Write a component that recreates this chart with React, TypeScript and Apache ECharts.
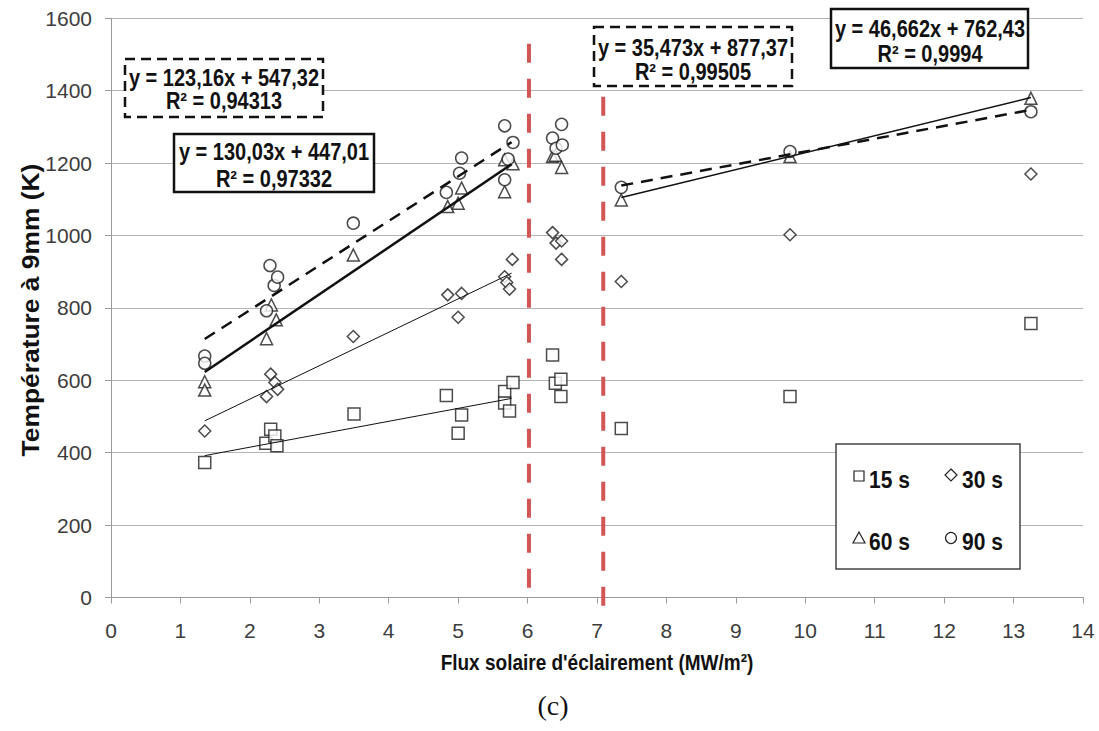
import React, { useEffect, useRef } from "react";
import * as echarts from "echarts";

// ---- data ----
const xTickValues = [0, 14, 1]; // min, max, interval
const yTickValues = [0, 1600, 200]; // min, max, interval

const pts15: [number, number][] = [
  [1.35, 373], [2.23, 426], [2.3, 465], [2.36, 446], [2.39, 419], [3.5, 507],
  [4.83, 558], [5.0, 454], [5.05, 504], [5.67, 569], [5.67, 537], [5.74, 515],
  [5.79, 594], [6.36, 670], [6.4, 592], [6.48, 603], [6.48, 555], [7.35, 467],
  [9.78, 555], [13.25, 757],
];
const pts30: [number, number][] = [
  [1.35, 460], [2.24, 555], [2.3, 617], [2.36, 594], [2.4, 575], [3.49, 721],
  [4.85, 836], [5.0, 774], [5.05, 840], [5.67, 886], [5.7, 870], [5.74, 852],
  [5.78, 934], [6.36, 1008], [6.41, 979], [6.49, 985], [6.49, 934], [7.35, 873],
  [9.78, 1002], [13.25, 1170],
];
const pts60: [number, number][] = [
  [1.35, 596], [1.35, 573], [2.24, 715], [2.31, 808], [2.38, 767], [3.49, 946],
  [4.85, 1080], [5.0, 1089], [5.05, 1131], [5.67, 1121], [5.67, 1209], [5.79, 1198],
  [6.36, 1218], [6.4, 1222], [6.49, 1188], [7.35, 1098], [9.78, 1218], [13.25, 1379],
];
const pts90: [number, number][] = [
  [1.35, 667], [1.35, 647], [2.24, 792], [2.29, 917], [2.35, 862], [2.4, 885],
  [3.49, 1034], [4.83, 1119], [5.02, 1172], [5.05, 1214], [5.67, 1303], [5.67, 1154],
  [5.72, 1211], [5.79, 1257], [6.36, 1269], [6.41, 1241], [6.49, 1307], [6.5, 1250],
  [7.35, 1133], [9.78, 1232], [13.25, 1342],
];

const trend15: [number, number][] = [[1.35, 392], [5.77, 550]];
const trend30: [number, number][] = [[1.35, 488], [5.77, 896]];
const trend60Left: [number, number][] = [[1.35, 623], [5.77, 1197]];
const trend90Left: [number, number][] = [[1.35, 714], [5.77, 1258]];
const trend60Right: [number, number][] = [[7.35, 1105], [13.25, 1381]];
const trend90Right: [number, number][] = [[7.35, 1138], [13.25, 1347]];

const redLine1: [number, number][] = [[6.02, 1530], [6.02, -15]];
const redLine2: [number, number][] = [[7.09, 1383], [7.09, -54]];

const equations = [
  { l1: "y = 123,16x + 547,32", l2: "R² = 0,94313", dashed: true },
  { l1: "y = 130,03x + 447,01", l2: "R² = 0,97332", dashed: false },
  { l1: "y = 35,473x + 877,37", l2: "R² = 0,99505", dashed: true },
  { l1: "y = 46,662x + 762,43", l2: "R² = 0,9994", dashed: false },
];
const legendNames = ["15 s", "30 s", "60 s", "90 s"];

const xTitle = "Flux solaire d'éclairement (MW/m²)";
const yTitle = "Température à 9mm (K)";
const caption = "(c)";

export default function App() {
  const ref = useRef<HTMLDivElement>(null);

  useEffect(() => {
    const chart = echarts.init(ref.current!, null, { renderer: "svg" });
    const font = "'Liberation Sans', Arial, Helvetica, sans-serif";
    const markerStyle = { color: "#ffffff", borderColor: "#1e1e1e", borderWidth: 1.5 };

    const scatter = (name: string, data: [number, number][], symbol: string) => ({
      type: "scatter",
      name,
      data,
      symbol,
      symbolSize: 12,
      itemStyle: markerStyle,
      z: 3,
    });
    const trend = (data: [number, number][], width: number, dashed: boolean) => ({
      type: "line",
      data,
      symbol: "none",
      silent: true,
      lineStyle: { color: "#111", width, type: dashed ? [12, 8] : "solid" },
      z: 4,
    });
    const red = (data: [number, number][]) => ({
      type: "line",
      data,
      symbol: "none",
      silent: true,
      clip: false,
      lineStyle: { color: "#d25656", width: 4, type: [19, 16] },
      z: 2,
    });

    const boxes = [
      { x: 125, y: 59, w: 198, h: 58, cx: 224, t1: 78, t2: 101 },
      { x: 174, y: 134, w: 200, h: 58, cx: 274, t1: 152, t2: 179 },
      { x: 594, y: 27, w: 198, h: 59, cx: 693, t1: 48, t2: 72 },
      { x: 831, y: 9, w: 197, h: 59, cx: 930, t1: 29, t2: 54 },
    ];

    const txt = (
      x: number, y: number, text: string, size: number, align: string,
      extra: Record<string, unknown> = {}, family = font, weight = "bold"
    ) => ({
      type: "text",
      x,
      y,
      z: 101,
      ...extra,
      style: {
        text,
        fontSize: size,
        fontFamily: family,
        fontWeight: weight,
        fill: "#111",
        textAlign: align,
        textVerticalAlign: "middle",
        align,
        verticalAlign: "middle",
      },
    });

    const graphic: any[] = [];
    equations.forEach((eq, i) => {
      const b = boxes[i];
      graphic.push({
        type: "rect",
        z: 100,
        shape: { x: b.x, y: b.y, width: b.w, height: b.h },
        style: {
          fill: "#ffffff",
          stroke: "#111",
          lineWidth: 2.5,
          lineDash: eq.dashed ? [10, 6] : null,
        },
      });
      graphic.push(txt(b.cx, b.t1, eq.l1, 20, "center", { scaleY: 1.15 }));
      graphic.push(txt(b.cx, b.t2, eq.l2, 20, "center", { scaleY: 1.15 }));
    });

    // legend box
    graphic.push({
      type: "rect",
      z: 100,
      shape: { x: 836, y: 444, width: 184, height: 125 },
      style: { fill: "#ffffff", stroke: "#444", lineWidth: 1.5 },
    });
    const iconStyle = { fill: "#fff", stroke: "#222", lineWidth: 1.2 };
    graphic.push({ type: "rect", z: 101, shape: { x: 854, y: 471, width: 10, height: 10 }, style: iconStyle });
    graphic.push({ type: "polygon", z: 101, shape: { points: [[951, 469], [957, 475], [951, 481], [945, 475]] }, style: iconStyle });
    graphic.push({ type: "polygon", z: 101, shape: { points: [[859, 532], [865, 543], [853, 543]] }, style: iconStyle });
    graphic.push({ type: "circle", z: 101, shape: { cx: 951, cy: 538, r: 5.5 }, style: iconStyle });
    graphic.push(txt(869, 480, legendNames[0], 21, "left", { scaleY: 1.15 }));
    graphic.push(txt(962, 480, legendNames[1], 21, "left", { scaleY: 1.15 }));
    graphic.push(txt(869, 542, legendNames[2], 21, "left", { scaleY: 1.15 }));
    graphic.push(txt(962, 542, legendNames[3], 21, "left", { scaleY: 1.15 }));

    // axis titles & caption
    graphic.push(txt(597, 662, xTitle, 19, "center", { scaleY: 1.15 }));
    graphic.push(txt(30, 310, yTitle, 24, "center", { rotation: Math.PI / 2, scaleX: 1.1 }));
    graphic.push(
      txt(553, 705, caption, 28, "center", {}, "'Liberation Serif', 'DejaVu Serif', serif", "normal")
    );

    const label = {
      fontSize: 21,
      color: "#3c3c3c",
      fontFamily: font,
      formatter: (v: number) => String(v),
    };

    chart.setOption({
      animation: false,
      backgroundColor: "#ffffff",
      grid: { left: 111, right: 16, top: 18.3, bottom: 133.5, containLabel: false },
      xAxis: {
        type: "value",
        min: xTickValues[0],
        max: xTickValues[1],
        interval: xTickValues[2],
        splitLine: { show: false },
        axisLine: { show: true, lineStyle: { color: "#9a9a9a", width: 1 } },
        axisTick: { show: true, length: 6, lineStyle: { color: "#9a9a9a" } },
        axisLabel: { ...label, margin: 22 },
      },
      yAxis: {
        type: "value",
        min: yTickValues[0],
        max: yTickValues[1],
        interval: yTickValues[2],
        splitLine: { show: true, lineStyle: { color: "#b4b4b4", width: 1 } },
        axisLine: { show: true, lineStyle: { color: "#9a9a9a", width: 1 } },
        axisTick: { show: true, length: 6, lineStyle: { color: "#9a9a9a" } },
        axisLabel: { ...label, margin: 19 },
      },
      series: [
        red(redLine1),
        red(redLine2),
        scatter(legendNames[0], pts15, "rect"),
        scatter(legendNames[1], pts30, "diamond"),
        scatter(legendNames[2], pts60, "triangle"),
        scatter(legendNames[3], pts90, "circle"),
        trend(trend15, 1, false),
        trend(trend30, 1, false),
        trend(trend60Left, 2.5, false),
        trend(trend90Left, 2.5, true),
        trend(trend60Right, 1.5, false),
        trend(trend90Right, 2.5, true),
      ],
      graphic,
    });

    return () => chart.dispose();
  }, []);

  return (
    <div
      ref={ref}
      style={{ position: "fixed", left: 0, top: 0, width: 1099, height: 731, background: "#fff" }}
    />
  );
}
